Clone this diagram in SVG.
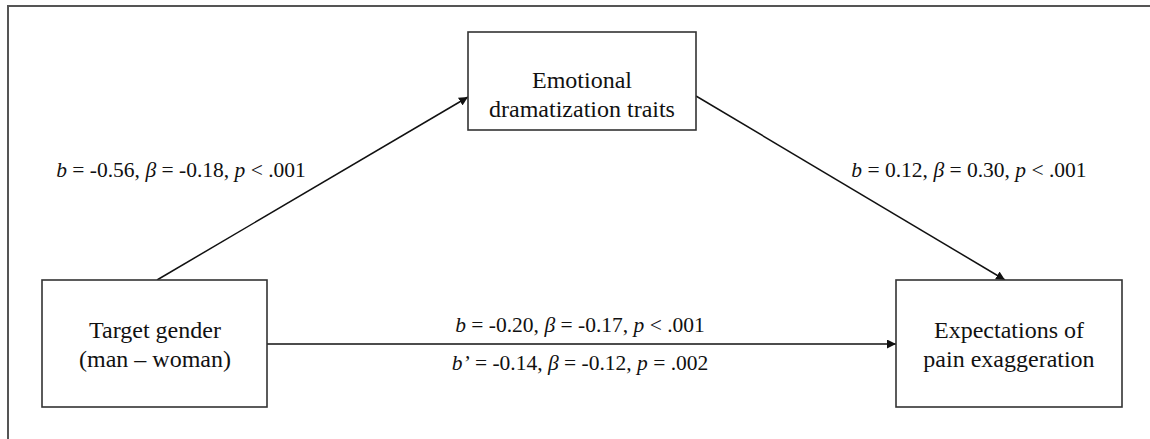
<svg xmlns="http://www.w3.org/2000/svg" width="1150" height="439" viewBox="0 0 1150 439">
<style>
.box{fill:#fff;stroke:#333;stroke-width:1.6}
.t{font-family:"Liberation Serif","Times New Roman",serif;font-size:24px;fill:#111;text-anchor:middle}
.l{font-size:21.5px}
.i{font-style:italic}
.c{stroke:#111;stroke-width:1.5;fill:none}
</style>
<defs>
<marker id="ah" viewBox="0 0 10 10" refX="10" refY="5" markerWidth="9" markerHeight="9" markerUnits="userSpaceOnUse" orient="auto">
<path d="M0,0 L10,5 L0,10 z" fill="#111"/>
</marker>
</defs>
<rect width="1150" height="439" fill="#fff"/>
<path d="M8,439 L8,6 L1150,6" fill="none" stroke="#555" stroke-width="2"/>
<g id="connectors">
<line class="c" x1="157" y1="280" x2="468" y2="97" marker-end="url(#ah)"/>
<line class="c" x1="696" y1="96" x2="1005" y2="280" marker-end="url(#ah)"/>
<line class="c" x1="267" y1="344" x2="896" y2="344" marker-end="url(#ah)"/>
</g>
<g id="node-emotional">
<rect class="box" x="468" y="32" width="228" height="98"/>
<text class="t" x="582" y="88">Emotional</text>
<text class="t" x="582" y="117">dramatization traits</text>
</g>
<g id="node-gender">
<rect class="box" x="42" y="280" width="225" height="127"/>
<text class="t" x="155" y="338">Target gender</text>
<text class="t" x="155" y="367">(man – woman)</text>
</g>
<g id="node-expectations">
<rect class="box" x="896" y="280" width="226" height="127"/>
<text class="t" x="1009" y="338">Expectations of</text>
<text class="t" x="1009" y="367">pain exaggeration</text>
</g>
<g id="labels">
<text class="t l" x="181" y="177"><tspan class="i">b</tspan> = -0.56, <tspan class="i">β</tspan> = -0.18, <tspan class="i">p</tspan> &lt; .001</text>
<text class="t l" x="969" y="177"><tspan class="i">b</tspan> = 0.12, <tspan class="i">β</tspan> = 0.30, <tspan class="i">p</tspan> &lt; .001</text>
<text class="t l" x="580" y="332"><tspan class="i">b</tspan> = -0.20, <tspan class="i">β</tspan> = -0.17, <tspan class="i">p</tspan> &lt; .001</text>
<text class="t l" x="580" y="370"><tspan class="i">b’</tspan> = -0.14, <tspan class="i">β</tspan> = -0.12, <tspan class="i">p</tspan> = .002</text>
</g>
</svg>
